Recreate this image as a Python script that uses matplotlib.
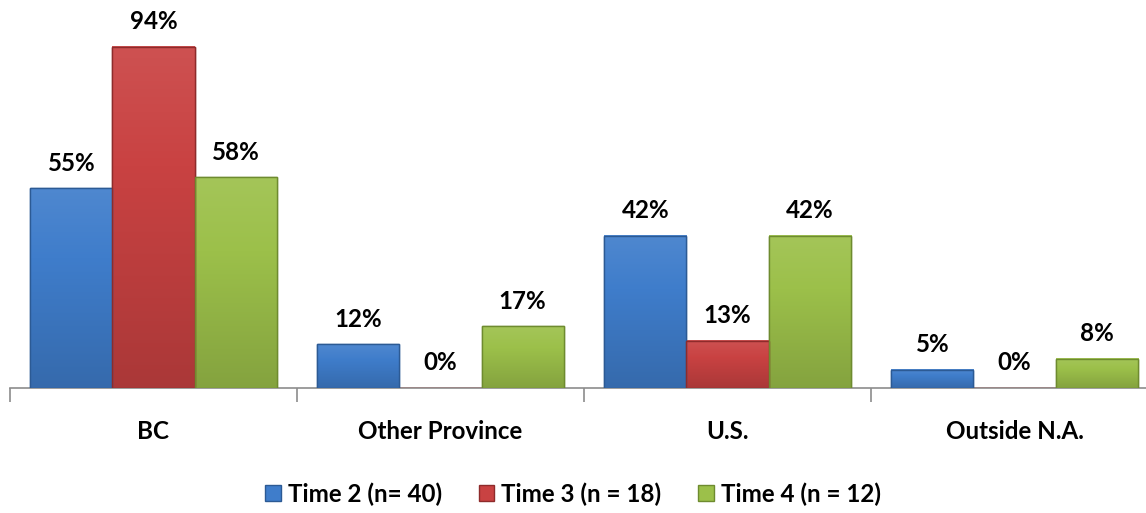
import numpy as np
import matplotlib.pyplot as plt
from matplotlib.colors import to_rgb

# datos del grafico
categories = ["BC", "Other Province", "U.S.", "Outside N.A."]
series_names = ["Time 2 (n= 40)", "Time 3 (n = 18)", "Time 4 (n = 12)"]
time2 = [55, 12, 42, 5]
time3 = [94, 0, 13, 0]
time4 = [58, 17, 42, 8]
colors = ["#3F7DCB", "#C94242", "#9CC04A"]
edges = ["#2C5A94", "#8E2B2B", "#6E8B2F"]

plt.rcParams['font.family'] = ['Lato', 'DejaVu Sans']
FS = 17.4

fig = plt.figure(figsize=(11.46, 5.13), dpi=100)
ax = fig.add_axes([10 / 1146, 125 / 513, 1148 / 1146, 363 / 513])


def shade(c, f):
    r = np.array(to_rgb(c))
    if f > 1:
        return r + (1 - r) * (f - 1)
    return r * f


x = np.arange(len(categories))
w = 0.286
values = [time2, time3, time4]
for i, vals in enumerate(values):
    pos = x + (i - 1) * w
    bars = ax.bar(pos, vals, width=w, color=colors[i], edgecolor=edges[i],
                  linewidth=1, label=series_names[i], zorder=3)
    # degradado vertical sobre cada barra
    for b in bars:
        h = b.get_height()
        if h <= 0:
            continue
        grad = np.linspace(1.08, 0.85, 50)
        img = np.array([[shade(colors[i], g)] for g in grad])
        ax.imshow(img, extent=[b.get_x(), b.get_x() + b.get_width(), 0, h],
                  aspect="auto", zorder=3.5, interpolation="bilinear")
        ax.bar(b.get_x() + b.get_width() / 2, h, width=b.get_width(),
               color="none", edgecolor=edges[i], linewidth=1, zorder=4)
    for b, v in zip(bars, vals):
        ax.text(b.get_x() + b.get_width() / 2, v + 6.9, f"{v}%",
                ha="center", va="center", fontsize=FS, fontweight="bold")

ax.set_xlim(-0.5, 3.5)
ax.set_ylim(0, 100)
for s in ["top", "right", "left"]:
    ax.spines[s].set_visible(False)
ax.spines["bottom"].set_color("#8C8C8C")
ax.spines["bottom"].set_linewidth(1.2)
ax.set_yticks([])
ax.set_xticks(np.arange(-0.5, 4, 1))
ax.set_xticklabels([])
ax.tick_params(axis="x", length=10, color="#8C8C8C", width=1.2)
for xi, c in zip(x, categories):
    ax.text(xi, -12.0, c, ha="center", va="center", fontsize=FS, fontweight="bold")

fig.legend(loc="center", bbox_to_anchor=(0.5, 1 - 494 / 513), ncol=3,
           frameon=False, handlelength=0.65, handleheight=0.65,
           columnspacing=1.5, handletextpad=0.3,
           prop={"weight": "bold", "size": FS})

fig.savefig("out.png", dpi=100)
